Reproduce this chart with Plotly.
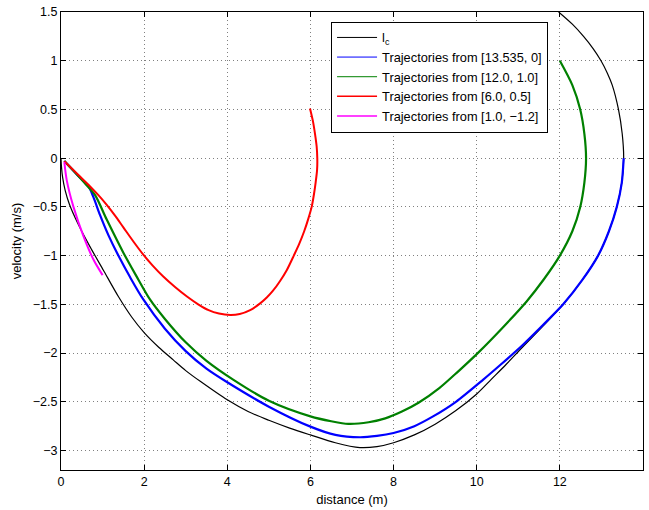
import plotly.graph_objects as go

# ---- data ----
lc_x = [11.97, 12.3, 12.57, 12.8, 12.99, 13.14, 13.26, 13.41, 13.5, 13.535, 13.49, 13.37, 13.18, 12.92, 12.54,
        12.08, 11.6, 11.1, 10.7, 10.35, 10.0, 9.5, 9.0, 8.5, 8.0, 7.6, 7.19, 6.6, 6.0, 5.5, 5.0, 4.5, 4.0, 3.35,
        3.0, 2.7, 2.35, 2.0, 1.7, 1.38, 1.02, 0.7, 0.4, 0.2, 0.1, 0.04, 0.01, 0.0]
lc_y = [1.5, 1.375, 1.25, 1.125, 1.0, 0.875, 0.75, 0.5, 0.25, 0.0, -0.25, -0.5, -0.75, -1.0, -1.25,
        -1.5, -1.72, -1.94, -2.12, -2.27, -2.42, -2.59, -2.73, -2.84, -2.92, -2.96, -2.97, -2.92, -2.84, -2.77,
        -2.69, -2.6, -2.48, -2.29, -2.18, -2.07, -1.94, -1.79, -1.63, -1.42, -1.15, -0.91, -0.665, -0.47, -0.33,
        -0.2, -0.08, 0.0]

blue_x = [13.535, 13.49, 13.37, 13.18, 12.92, 12.54, 12.08, 11.6, 11.1, 10.6, 10.15, 9.5, 8.95, 8.5,
          8.0, 7.6, 7.19, 6.6, 6.0, 5.0, 4.0, 3.5, 3.0, 2.5, 1.98, 1.66, 1.38, 1.14, 0.94, 0.78, 0.663, 0.4, 0.08]
blue_y = [0.0, -0.25, -0.5, -0.75, -1.0, -1.25, -1.5, -1.71, -1.92, -2.11, -2.275, -2.5, -2.65, -2.75,
          -2.82, -2.85, -2.864, -2.84, -2.755, -2.55, -2.3, -2.16, -1.98, -1.75, -1.45, -1.22, -1.0, -0.79,
          -0.585, -0.40, -0.29, -0.175, -0.03]

green_x = [12.0, 12.3, 12.49, 12.59, 12.63, 12.59, 12.49, 12.3, 12.0, 11.62, 11.2, 10.6, 10.05, 9.55, 9.1,
           8.6, 8.2, 7.8, 7.4, 6.91, 6.5, 6.0, 5.0, 4.15, 3.5, 3.0, 2.5, 2.14, 1.8, 1.5, 1.1, 0.82, 0.6,
           0.3, 0.08]
green_y = [1.0, 0.75, 0.5, 0.25, 0.0, -0.25, -0.5, -0.75, -1.0, -1.24, -1.47, -1.75, -1.99, -2.19, -2.36,
           -2.51, -2.6, -2.67, -2.71, -2.727, -2.70, -2.65, -2.49, -2.275, -2.08, -1.89, -1.65, -1.45, -1.2,
           -0.97, -0.63, -0.38, -0.27, -0.13, -0.03]

red_x = [5.99, 6.06, 6.11, 6.15, 6.165, 6.16, 6.125, 6.085, 6.03, 5.95, 5.85, 5.73, 5.6, 5.43, 5.27, 5.1,
         4.95, 4.79, 4.55, 4.3, 4.07, 3.8, 3.55, 3.3, 3.03, 2.75, 2.46, 2.2, 1.98, 1.75, 1.5, 1.3, 1.1, 0.9,
         0.7, 0.4, 0.08]
red_y = [0.51, 0.38, 0.25, 0.12, 0.0, -0.12, -0.25, -0.37, -0.5, -0.62, -0.75, -0.88, -1.0, -1.15, -1.26, -1.36,
         -1.43, -1.49, -1.56, -1.6, -1.61, -1.595, -1.56, -1.5, -1.42, -1.325, -1.215, -1.1, -0.99, -0.86,
         -0.71, -0.59, -0.48, -0.38, -0.29, -0.165, -0.03]

mag_x = [1.0, 0.78, 0.54, 0.3, 0.14, 0.08]
mag_y = [-1.2, -1.04, -0.80, -0.50, -0.23, -0.04]

x_ticks = [0, 2, 4, 6, 8, 10, 12, 14]
y_ticks = [-3, -2.5, -2, -1.5, -1, -0.5, 0, 0.5, 1, 1.5]

series = [
    ("l<sub>c</sub>", lc_x, lc_y, "#000000", 1.2, 1.0),
    ("Trajectories from [13.535, 0]", blue_x, blue_y, "#0000ff", 2.2, 1.0),
    ("Trajectories from [12.0, 1.0]", green_x, green_y, "#008000", 2.2, 1.0),
    ("Trajectories from [6.0, 0.5]", red_x, red_y, "#ff0000", 2.0, 1.5),
    ("Trajectories from [1.0, \u22121.2]", mag_x, mag_y, "#ff00ff", 2.0, 1.5),
]

fig = go.Figure()
for name, xs, ys, col, w, lw in series:
    fig.add_trace(go.Scatter(x=xs, y=ys, mode="lines", name=name, showlegend=False,
                             line=dict(color=col, width=w, shape="spline", smoothing=0.8)))
for name, xs, ys, col, w, lw in series:
    fig.add_trace(go.Scatter(x=[None], y=[None], mode="lines", name=name, showlegend=True,
                             line=dict(color=col, width=lw)))

font = "Liberation Sans, Arial, sans-serif"
axis_common = dict(showline=True, linecolor="black", linewidth=1, mirror="allticks",
                   ticks="inside", ticklen=5, tickcolor="black", showgrid=True,
                   gridcolor="#808080", griddash="1px,3px", gridwidth=1, zeroline=False,
                   automargin=False,
                   tickfont=dict(family=font, size=12.5, color="black"))

fig.update_xaxes(range=[0, 14], tickvals=x_ticks, title=dict(text="distance (m)", standoff=6,
                 font=dict(family=font, size=13, color="black")), **axis_common)
fig.update_yaxes(range=[-3.2, 1.5], tickvals=y_ticks, title=dict(text="velocity (m/s)", standoff=8,
                 font=dict(family=font, size=13, color="black")), **axis_common)

fig.update_layout(
    width=649, height=510,
    margin=dict(l=61, r=6, t=12, b=40),
    paper_bgcolor="white", plot_bgcolor="white",
    font=dict(family=font, size=13, color="black"),
    showlegend=True,
    legend=dict(x=0.464, y=0.979, xanchor="left", yanchor="top",
                bgcolor="white", bordercolor="black", borderwidth=1,
                font=dict(family=font, size=12.8, color="black"),
                itemwidth=40, tracegroupgap=0),
)

fig.write_html("out.html", config={"displayModeBar": False},
               post_script="document.body.style.margin='0';")
